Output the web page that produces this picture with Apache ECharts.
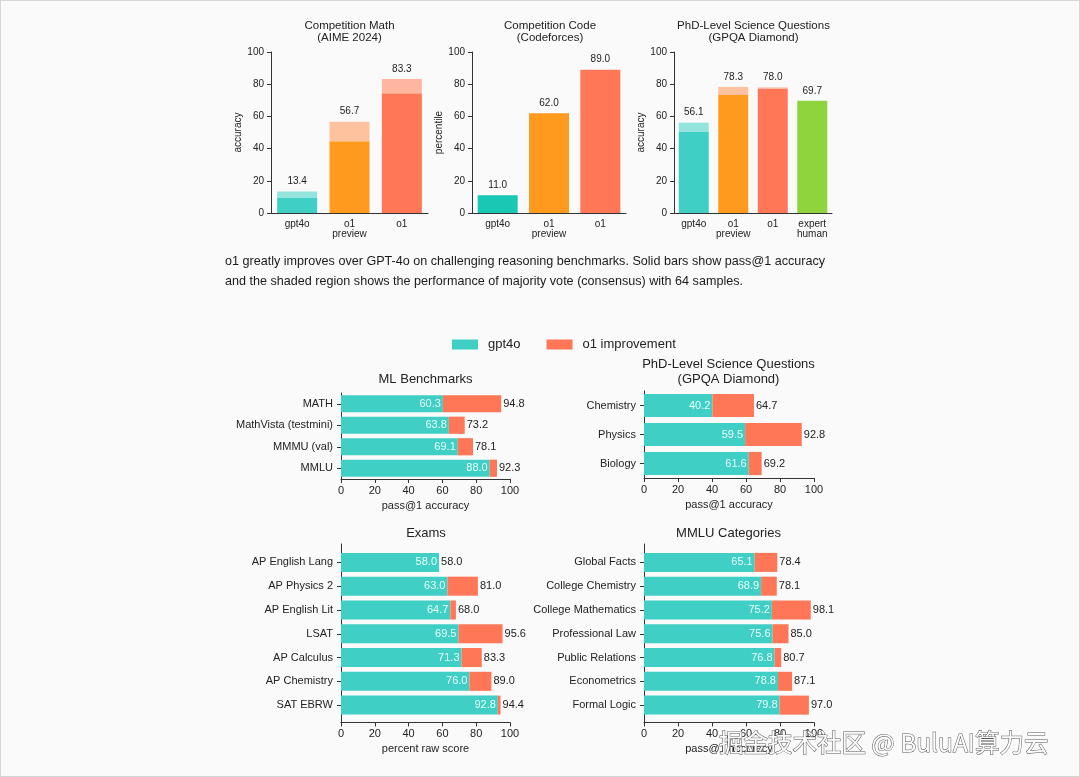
<!DOCTYPE html>
<html><head><meta charset="utf-8">
<script src="https://cdn.jsdelivr.net/npm/echarts@6/dist/echarts.min.js"></script>
<style>html,body{margin:0;padding:0;background:#fafafa}#c{width:1080px;height:777px;box-sizing:border-box;border:1px solid #d6d6d6;}</style>
</head><body><div id="c"></div>
<script>
// ---------- data ----------
const aimeCats = ['gpt4o', 'o1\npreview', 'o1'];
const aimePass1 = [9.3, 44.6, 74.4];
const aimeCons = [13.4, 56.7, 83.3];

const codeCats = ['gpt4o', 'o1\npreview', 'o1'];
const codePct = [11.0, 62.0, 89.0];

const gpqaCats = ['gpt4o', 'o1\npreview', 'o1', 'expert\nhuman'];
const gpqaPass1 = [50.6, 73.3, 77.3, 69.7];
const gpqaCons = [56.1, 78.3, 78.0, 69.7];

const mlCats = ['MATH', 'MathVista (testmini)', 'MMMU (val)', 'MMLU'];
const mlGpt4o = [60.3, 63.8, 69.1, 88.0];
const mlO1 = [94.8, 73.2, 78.1, 92.3];

const sciCats = ['Chemistry', 'Physics', 'Biology'];
const sciGpt4o = [40.2, 59.5, 61.6];
const sciO1 = [64.7, 92.8, 69.2];

const examCats = ['AP English Lang', 'AP Physics 2', 'AP English Lit', 'LSAT', 'AP Calculus', 'AP Chemistry', 'SAT EBRW'];
const examGpt4o = [58.0, 63.0, 64.7, 69.5, 71.3, 76.0, 92.8];
const examO1 = [58.0, 81.0, 68.0, 95.6, 83.3, 89.0, 94.4];

const mmluCats = ['Global Facts', 'College Chemistry', 'College Mathematics', 'Professional Law', 'Public Relations', 'Econometrics', 'Formal Logic'];
const mmluGpt4o = [65.1, 68.9, 75.2, 75.6, 76.8, 78.8, 79.8];
const mmluO1 = [78.4, 78.1, 98.1, 85.0, 80.7, 87.1, 97.0];

const legendNames = ['gpt4o', 'o1 improvement'];

// ---------- styles ----------
const FONT = 'Liberation Sans';
const INK = '#222';
const AX = '#333';
const TEAL = '#3fcfc4', TEAL_L = '#93e4dd', TEAL_CODE = '#19c8b4';
const ORANGE = '#ff9a1f', ORANGE_L = '#ffc29e';
const CORAL = '#ff7757', CORAL_L = '#ffb6a0';
const GREEN = '#8fd43d';

const grids = [], xAxes = [], yAxes = [], series = [];

function topChart(cats, pass1, cons, solidCols, shadeCols, yName, rect, barW) {
  const gi = grids.length;
  grids.push(Object.assign({ outerBoundsMode: 'none', containLabel: false }, rect));
  xAxes.push({
    type: 'category', gridIndex: gi, data: cats,
    axisLine: { lineStyle: { color: AX, width: 1 } },
    axisTick: { show: false },
    axisLabel: { fontFamily: FONT, fontSize: 10, color: INK, margin: 6, lineHeight: 10, interval: 0 }
  });
  yAxes.push({
    type: 'value', gridIndex: gi, min: 0, max: 100, interval: 20,
    name: yName, nameLocation: 'middle', nameGap: 24,
    nameTextStyle: { fontFamily: FONT, fontSize: 10, color: INK },
    axisLine: { show: true, lineStyle: { color: AX, width: 1 } },
    axisTick: { show: true, length: 4, lineStyle: { color: AX } },
    axisLabel: { fontFamily: FONT, fontSize: 10, color: INK, margin: 7 },
    splitLine: { show: false }
  });
  series.push({
    type: 'bar', name: yName + gi + 's', xAxisIndex: gi, yAxisIndex: gi, stack: 's' + gi, barWidth: barW,
    data: pass1.map((v, k) => ({ value: v, itemStyle: { color: solidCols[k] } })),
    silent: true
  });
  if (cons) {
    series.push({
      type: 'bar', name: yName + gi + 'c', xAxisIndex: gi, yAxisIndex: gi, stack: 's' + gi, barWidth: barW,
      data: cons.map((v, k) => ({ value: +(v - pass1[k]).toFixed(2), itemStyle: { color: shadeCols[k] } })),
      label: { show: true, position: 'top', distance: 5, fontFamily: FONT, fontSize: 10, color: INK,
        formatter: p => cons[p.dataIndex].toFixed(1) },
      silent: true
    });
  } else {
    series[series.length - 1].label = { show: true, position: 'top', distance: 5, fontFamily: FONT, fontSize: 10, color: INK,
      formatter: p => pass1[p.dataIndex].toFixed(1) };
  }
}

function bottomChart(cats, base, o1, xName, barRect, spineRect) {
  const gi = grids.length;
  grids.push(Object.assign({ outerBoundsMode: 'none', containLabel: false }, barRect));
  xAxes.push({ type: 'value', gridIndex: gi, min: 0, max: 100, show: false });
  yAxes.push({
    type: 'category', gridIndex: gi, data: cats, inverse: true,
    axisLine: { show: false },
    axisTick: { show: true, alignWithLabel: true, length: 4, lineStyle: { color: AX } },
    axisLabel: { fontFamily: FONT, fontSize: 11, color: INK, margin: 8, interval: 0 }
  });
  series.push({
    type: 'bar', name: legendNames[0], xAxisIndex: gi, yAxisIndex: gi, stack: 'b' + gi, barWidth: '80%',
    itemStyle: { color: TEAL }, data: base, silent: true,
    label: { show: true, position: 'insideRight', distance: 2, fontFamily: FONT, fontSize: 11, color: '#eafffc',
      formatter: p => base[p.dataIndex].toFixed(1) }
  });
  series.push({
    type: 'bar', name: legendNames[1], xAxisIndex: gi, yAxisIndex: gi, stack: 'b' + gi, barWidth: '80%',
    itemStyle: { color: CORAL }, data: o1.map((v, k) => +(v - base[k]).toFixed(2)), silent: true,
    label: { show: true, position: 'right', distance: 2, fontFamily: FONT, fontSize: 11, color: INK,
      formatter: p => o1[p.dataIndex].toFixed(1) }
  });
  const si = grids.length;
  grids.push(Object.assign({ outerBoundsMode: 'none', containLabel: false }, spineRect));
  xAxes.push({
    type: 'value', gridIndex: si, min: 0, max: 100, interval: 20,
    name: xName, nameLocation: 'middle', nameGap: 21,
    nameTextStyle: { fontFamily: FONT, fontSize: 11, color: INK },
    axisLine: { show: true, onZero: false, lineStyle: { color: AX, width: 1 } },
    axisTick: { show: true, length: 4, lineStyle: { color: AX } },
    axisLabel: { fontFamily: FONT, fontSize: 11, color: INK, margin: 6 },
    splitLine: { show: false }
  });
  yAxes.push({
    type: 'value', gridIndex: si, min: 0, max: 1,
    axisLine: { show: true, onZero: false, lineStyle: { color: AX, width: 1 } },
    axisTick: { show: false }, axisLabel: { show: false }, splitLine: { show: false }
  });
}

topChart(aimeCats, aimePass1, aimeCons, [TEAL, ORANGE, CORAL], [TEAL_L, ORANGE_L, CORAL_L], 'accuracy',
  { left: 270, top: 51, width: 157, height: 161 }, 40);
topChart(codeCats, codePct, null, [TEAL_CODE, ORANGE, CORAL], null, 'percentile',
  { left: 471, top: 51, width: 154, height: 161 }, 40);
topChart(gpqaCats, gpqaPass1, gpqaCons, [TEAL, ORANGE, CORAL, GREEN], [TEAL_L, ORANGE_L, CORAL_L, GREEN], 'accuracy',
  { left: 673, top: 51, width: 158, height: 161 }, 30);

bottomChart(mlCats, mlGpt4o, mlO1, 'pass@1 accuracy',
  { left: 340, top: 392, width: 169, height: 86 }, { left: 340, top: 392, width: 169, height: 86 });
bottomChart(sciCats, sciGpt4o, sciO1, 'pass@1 accuracy',
  { left: 643, top: 390, width: 170, height: 87 }, { left: 643, top: 390, width: 170, height: 87 });
bottomChart(examCats, examGpt4o, examO1, 'percent raw score',
  { left: 340, top: 549.5, width: 169, height: 166.5 }, { left: 340, top: 543, width: 169, height: 178.5 });
bottomChart(mmluCats, mmluGpt4o, mmluO1, 'pass@1 accuracy',
  { left: 643, top: 549.5, width: 170, height: 166.5 }, { left: 643, top: 543, width: 170, height: 178.5 });

function txt(x, y, s, size, opts) {
  return Object.assign({
    type: 'text', x: x, y: y, silent: true,
    style: Object.assign({ text: s, fontFamily: FONT, fontSize: size, fill: INK, align: 'center', verticalAlign: 'middle' }, opts || {})
  });
}

const graphics = [
  txt(348.5, 25, 'Competition Math', 11.5), txt(348.5, 37, '(AIME 2024)', 11.5),
  txt(549, 25, 'Competition Code', 11.5), txt(549, 37, '(Codeforces)', 11.5),
  txt(752.5, 25, 'PhD-Level Science Questions', 11.5), txt(752.5, 37, '(GPQA Diamond)', 11.5),
  txt(224, 260.5, 'o1 greatly improves over GPT-4o on challenging reasoning benchmarks. Solid bars show pass@1 accuracy', 12.6, { align: 'left', fill: '#1a1a1a' }),
  txt(224, 280.5, 'and the shaded region shows the performance of majority vote (consensus) with 64 samples.', 12.6, { align: 'left', fill: '#1a1a1a' }),
  txt(424.5, 378, 'ML Benchmarks', 13),
  txt(727.5, 363, 'PhD-Level Science Questions', 13), txt(727.5, 378, '(GPQA Diamond)', 13),
  txt(425, 532, 'Exams', 13),
  txt(727.5, 532, 'MMLU Categories', 13),
  { type: 'text', x: 718, y: 742, silent: true, z: 100,
    style: { text: '掘金技术社区 @ BuluAI算力云', fontFamily: 'Noto Sans CJK SC', fontSize: 24.5, fill: '#fbfbfb',
      stroke: '#555', lineWidth: 1, align: 'left', verticalAlign: 'middle' } }
];

const chart = echarts.init(document.getElementById('c'), null, { renderer: 'canvas' });
chart.setOption({
  backgroundColor: '#fafafa',
  animation: false,
  textStyle: { fontFamily: FONT },
  legend: {
    data: legendNames, left: 451, top: 337, padding: 0, icon: 'rect', itemWidth: 26, itemHeight: 10, itemGap: 26,
    textStyle: { fontFamily: FONT, fontSize: 13, color: INK, padding: [0, 0, 0, 5] },
    selectedMode: false
  },
  grid: grids, xAxis: xAxes, yAxis: yAxes, series: series,
  graphic: graphics
});
</script></body></html>
